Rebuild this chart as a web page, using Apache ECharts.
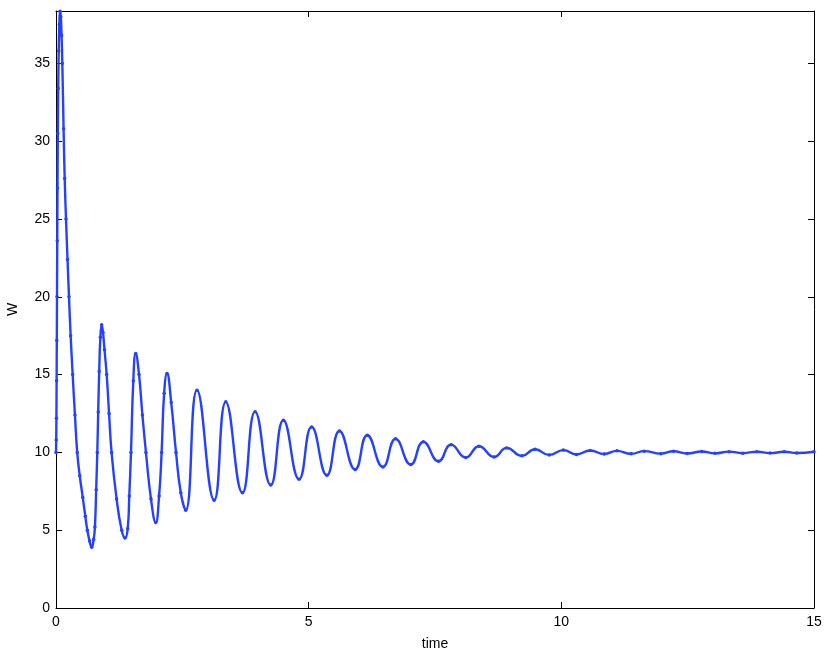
<!DOCTYPE html>
<html>
<head>
<meta charset="utf-8">
<title>W over time</title>
<script src="https://cdn.jsdelivr.net/npm/echarts@6/dist/echarts.min.js"></script>
<style>
  html, body { margin: 0; padding: 0; background: #fff; }
  #chart { width: 830px; height: 657px; }
</style>
</head>
<body>
<div id="chart"></div>
<script>
// values: time on x, W on y
const timeValues = [
  0, 0.004, 0.008, 0.012, 0.016, 0.02, 0.025, 0.03, 0.036, 0.044, 0.054, 0.066,
  0.08, 0.095, 0.11, 0.125, 0.15, 0.172, 0.198, 0.228, 0.257, 0.29, 0.33, 0.375,
  0.42, 0.47, 0.53, 0.58, 0.62, 0.665, 0.706, 0.745, 0.77, 0.795, 0.817, 0.835,
  0.855, 0.878, 0.904, 0.93, 0.96, 1.003, 1.05, 1.10, 1.2, 1.30, 1.365, 1.419,
  1.45, 1.484, 1.53, 1.577, 1.643, 1.71, 1.78, 1.88, 1.973, 2.04, 2.09, 2.14,
  2.197, 2.28, 2.375, 2.47, 2.567, 2.79, 3.13, 3.36,
  3.69, 3.94, 4.25, 4.5, 4.81, 5.06,
  5.36, 5.61, 5.92, 6.16, 6.47, 6.72,
  7.02, 7.27, 7.57, 7.82, 8.11, 8.37, 8.67, 8.92, 9.22,
  9.48, 9.76, 10.04, 10.3, 10.57, 10.85, 11.1, 11.38, 11.64, 11.97, 12.22, 12.49,
  12.78, 13.04, 13.32, 13.59, 13.87, 14.13, 14.41, 14.66, 15.0
];
const wValues = [
  10.0, 10.8, 12.2, 14.6, 17.2, 20.0, 23.6, 27.0, 30.5, 33.4, 35.8, 37.5,
  38.35, 38.0, 36.8, 35.0, 30.8, 27.6, 25.0, 22.4, 20.0, 17.5, 15.0, 12.4,
  10.0, 8.5, 7.1, 5.9, 5.0, 4.3, 3.9, 4.4, 5.2, 7.6, 10.0, 12.6,
  15.2, 17.4, 18.2, 17.7, 16.6, 15.0, 12.5, 10.0, 7.0, 5.0, 4.5, 5.1,
  7.2, 10.0, 14.6, 16.36, 15.0, 12.4, 10.0, 7.0, 5.49, 7.2, 10.0, 13.8,
  15.07, 13.2, 10.0, 7.4, 6.29, 14.0, 6.93, 13.25,
  7.4, 12.62, 7.9, 12.07, 8.28, 11.64,
  8.53, 11.38, 8.9, 11.1, 9.07, 10.87,
  9.22, 10.68, 9.43, 10.5, 9.67, 10.4, 9.71, 10.29, 9.78,
  10.2, 9.84, 10.15, 9.87, 10.12, 9.9, 10.1, 9.91, 10.08, 9.92, 10.07, 9.93,
  10.06, 9.94, 10.05, 9.95, 10.045, 9.955, 10.04, 9.96, 10.04
];
const xTicks = [0, 5, 10, 15];
const yTicks = [0, 5, 10, 15, 20, 25, 30, 35];

const font = 'Liberation Sans, Arial, sans-serif';
const lineColor = '#2541ff';

let points = timeValues.map((t, i) => [t, wValues[i]]);

let axisLine = { show: true, onZero: false, lineStyle: { color: '#000', width: 1 } };
let tick = { show: true, inside: true, length: 6, lineStyle: { color: '#000', width: 1 } };
let label = { color: '#000', fontSize: 14, fontFamily: font };

let option = {
  animation: false,
  backgroundColor: '#fff',
  grid: {
    left: 56, right: 16, top: 11, bottom: 49,
    containLabel: false, outerBoundsMode: 'none', show: false
  },
  xAxis: [
    {
      type: 'value', position: 'bottom', min: 0, max: 15, interval: 5,
      axisLine: axisLine,
      axisTick: Object.assign({ customValues: xTicks }, tick),
      axisLabel: Object.assign({ margin: 7, customValues: xTicks }, label),
      splitLine: { show: false },
      name: 'time', nameLocation: 'middle', nameGap: 29,
      nameTextStyle: { color: '#000', fontSize: 14, fontFamily: font }
    },
    {
      type: 'value', position: 'top', min: 0, max: 15, interval: 5,
      axisLine: axisLine,
      axisTick: Object.assign({ customValues: xTicks }, tick),
      axisLabel: { show: false },
      splitLine: { show: false }
    }
  ],
  yAxis: [
    {
      type: 'value', position: 'left', min: 0, max: 38.37, interval: 5,
      axisLine: axisLine,
      axisTick: Object.assign({ customValues: yTicks }, tick),
      axisLabel: Object.assign({ margin: 6, customValues: yTicks }, label),
      splitLine: { show: false },
      name: 'W', nameLocation: 'middle', nameGap: 36,
      nameTextStyle: { color: '#000', fontSize: 14, fontFamily: font }
    },
    {
      type: 'value', position: 'right', min: 0, max: 38.37, interval: 5,
      axisLine: axisLine,
      axisTick: Object.assign({ customValues: yTicks }, tick),
      axisLabel: { show: false },
      splitLine: { show: false }
    }
  ],
  series: [
    {
      name: 'W',
      type: 'line',
      data: points,
      smooth: 0.5,
      showSymbol: true,
      symbol: 'circle',
      symbolSize: 3.5,
      itemStyle: { color: lineColor },
      lineStyle: { color: lineColor, width: 2.4 },
      clip: true
    }
  ]
};

let myChart = echarts.init(document.getElementById('chart'));
myChart.setOption(option);
window.onresize = myChart.resize;
</script>
</body>
</html>
